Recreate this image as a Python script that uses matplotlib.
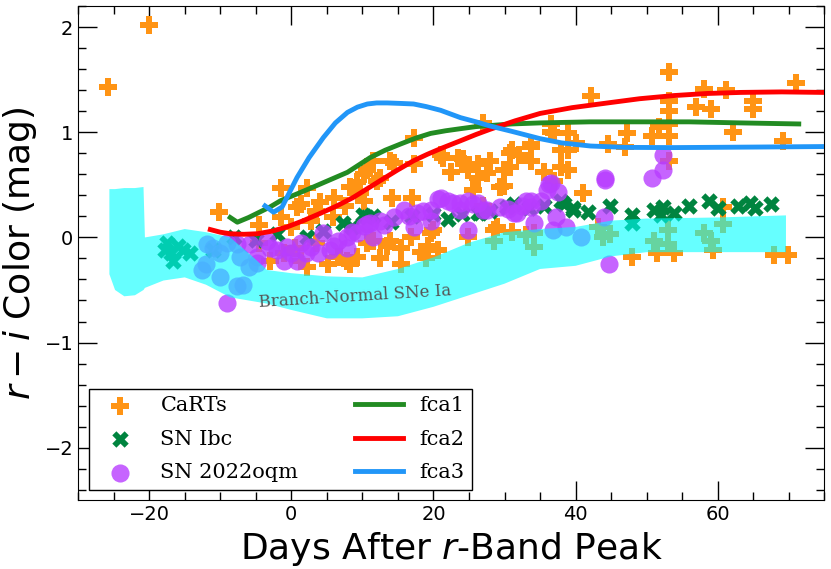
import numpy as np
import matplotlib
matplotlib.use("Agg")
import matplotlib.pyplot as plt
from matplotlib.ticker import MultipleLocator

# CaRTs (orange plus)
carts_x = [-25.8, -20.0, -10.2, -4.5, -1.5, -1.5, -0.1, 0.8, 1.3, 2.2, 2.7, 4.1, 5.9, 8.3, 9.3, 9.7,
           10.2, 10.2, 10.7, 11.5, 12.1, 12.5, 13.9, 14.2, 14.4, 17.0, 17.2, 17.2, 21.0, 21.4, 23.4,
           24.2, 24.8, 26.2, 26.2, 26.9, 27.6, 28.0, 29.4, 29.9, 29.9, 30.8, 30.8, 31.1, 33.7, 33.7,
           33.7, 36.5, 36.5, 36.9, 36.9, 37.9, 37.9, 38.9, 38.9, 38.9, 41.0, 42.1, 44.5, 47.0, 47.3,
           50.8, 51.7, 53.1, 53.1, 53.1, 53.1, 53.1, 53.1, 56.9, 58.0, 59.0, 60.8, 61.1, 62.1, 64.9,
           64.9, 69.2, 71.0,
           -3.0, -1.1, 1.3, 2.2, 5.1, 6.5, 6.9, 7.9, 8.3, 9.3, 10.7, 11.5, 13.5, 13.9, 15.4, 16.8,
           18.2, 19.2, 19.6, 20.0, 20.6, 24.8, 28.5, 28.5, 29.0, 34.1, 34.1, 43.1, 43.9, 44.8, 48.0,
           51.0, 51.5, 53.0, 53.0, 53.8, 58.0, 59.0, 59.4, 60.8, 67.9, 69.9,
           3.5, 6.0, 7.5, 22.5, 25.5, 32.0, 35.5, 40.0, -4.5, 0.5, 3.5, 12.5, 15.5, 19.0, 27.0, 31.0, 33.0]
carts_y = [1.43, 2.02, 0.24, 0.12, 0.47, 0.19, 0.10, 0.29, 0.32, 0.47, 0.16, 0.34, 0.19, 0.48, 0.53, 0.42,
           0.35, 0.60, 0.64, 0.73, 0.54, 0.57, 0.73, 0.38, 0.71, 0.38, 0.70, 0.95, 0.78, 0.76, 0.76,
           0.75, 0.64, 0.70, 0.57, 1.09, 0.61, 0.73, 0.48, 0.64, 0.49, 0.80, 0.67, 0.83, 0.86, 0.73,
           0.89, 1.08, 1.00, 0.99, 0.54, 0.83, 0.67, 0.99, 0.83, 0.64, 0.42, 1.35, 0.89, 0.86, 0.99,
           0.97, 1.05, 1.57, 1.30, 1.20, 1.08, 0.97, 0.73, 1.24, 1.41, 1.22, 0.29, 1.40, 1.00, 1.30,
           1.22, 0.92, 1.47,
           -0.22, -0.15, -0.22, -0.28, -0.25, -0.19, -0.19, -0.22, -0.25, -0.19, -0.05, -0.03, -0.08, -0.03, -0.10, 0.00,
           -0.14, -0.08, 0.04, 0.07, -0.12, 0.00, -0.03, 0.07, 0.10, 0.04, -0.09, 0.10, 0.00, 0.03, -0.19,
           -0.03, -0.15, 0.07, -0.06, -0.15, 0.04, -0.03, -0.12, 0.13, -0.17, -0.17,
           0.25, 0.38, 0.30, 0.62, 0.45, 0.78, 0.62, 0.90, -0.05, -0.10, -0.05, -0.20, -0.25, -0.20, 0.30, 0.05, 0.02]

# SN Ibc (green X)
ibc_x = [-17.5, -17.0, -16.6, -16.0, -15.2, -14.2, -17.8, -11.0,
         -8.0, -5.0, -2.0, 2.2, 4.5, 7.3, 8.5, 10.1, 10.7, 11.5, 14.0, 17.0, 20.0, 22.0, 24.0, 26.2,
         26.6, 28.0, 30.4, 31.3, 33.5, 35.5, 37.9, 38.3, 39.6, 39.7, 41.7, 44.9, 48.0, 48.0, 51.0,
         52.0, 52.3, 53.8, 55.9, 58.7, 60.1, 62.8, 64.6, 65.2, 67.5]
ibc_y = [-0.05, -0.15, -0.22, -0.08, -0.12, -0.15, -0.12, -0.12,
         0.00, -0.02, 0.03, 0.00, 0.06, 0.14, 0.10, 0.21, 0.19, 0.20, 0.15, 0.20, 0.22, 0.18, 0.22, 0.23,
         0.23, 0.25, 0.29, 0.32, 0.28, 0.30, 0.35, 0.32, 0.28, 0.26, 0.24, 0.30, 0.21, 0.14, 0.26,
         0.21, 0.29, 0.23, 0.30, 0.35, 0.28, 0.30, 0.33, 0.28, 0.32]

# SN 2022oqm (purple circles)
oqm_x = [-12.5, -11.8, -12.0, -10.0, -9.0, -7.6, -6.8, -6.0, -4.8, -11.0, -10.0,
         -7.6, -7.2, -5.8, -4.8, -3.4, -2.0, -1.1, -0.6, 0.8, 1.3, 2.7, 3.7, 4.5, 5.5, 6.5, 7.9,
         7.9, 9.3, 10.2, 10.7, 11.1, 11.5, 12.5, 14.4, 15.8, 17.2, 17.7, 19.6, 19.6, 20.7, 21.0,
         22.0, 22.8, 23.8, 23.8, 24.8, 24.8, 25.6, 26.2, 27.0, 27.6, 29.4, 31.3, 31.8, 33.0, 33.7,
         33.7, 34.1, 35.1, 36.0, 36.2, 36.5, 36.8, 37.2, 37.5, 38.6, 40.7, 44.0, 44.2, 44.2, 44.7,
         50.8, 52.3, 52.3,
         -9.0, -3.0, 0.0, 2.0, 6.0, 8.5, 13.0, 16.5, 18.5, 30.5, 32.5]
oqm_y = [-0.31, -0.06, -0.25, -0.38, -0.62, -0.46, -0.45, -0.28, -0.24, -0.10, -0.15,
         -0.06, -0.19, -0.06, -0.19, -0.03, -0.12, -0.22, -0.09, -0.22, -0.05, -0.09, -0.15, 0.04, -0.12, -0.03, 0.00,
         -0.10, 0.04, 0.11, 0.13, 0.14, 0.00, 0.16, 0.19, 0.26, 0.10, 0.23, 0.26, 0.16, 0.37, 0.38,
         0.35, 0.33, 0.26, 0.33, 0.35, 0.07, 0.32, 0.33, 0.26, 0.26, 0.29, 0.23, 0.23, 0.35, 0.29,
         0.35, 0.14, 0.35, 0.45, 0.51, 0.52, 0.07, 0.19, 0.43, 0.10, 0.00, 0.19, 0.57, 0.55, -0.25,
         0.57, 0.64, 0.78,
         -0.05, -0.10, -0.15, -0.15, -0.08, 0.05, 0.12, 0.20, 0.25, 0.27, 0.30]

# Branch-normal SNe Ia region
band_x = [-25.6, -24.8, -23.5, -22.0, -20.8, -20.6, -18.0, -15.0, -12.0, -8.6, -6.0, -3.4, 0.0, 5.0,
          10.0, 15.0, 20.0, 25.0, 30.0, 35.0, 40.0, 45.0, 50.0, 60.0, 69.6]
band_hi = [0.46, 0.46, 0.47, 0.47, 0.48, 0.00, 0.03, 0.08, 0.05, 0.00, -0.15, -0.31, -0.34, -0.37,
           -0.38, -0.30, -0.19, -0.05, 0.05, 0.08, 0.10, 0.16, 0.18, 0.19, 0.21]
band_lo = [-0.35, -0.50, -0.56, -0.55, -0.50, -0.48, -0.41, -0.38, -0.45, -0.57, -0.60, -0.63, -0.69, -0.77,
           -0.77, -0.75, -0.66, -0.55, -0.44, -0.30, -0.27, -0.18, -0.14, -0.14, -0.14]

# model curves
fca1_x = [-8.6, -7.6, -6.0, -4.8, -3.0, -1.5, 1.0, 3.1, 5.5, 7.9, 9.5, 11.1, 13.2, 15.4, 17.5, 19.6,
          21.7, 23.8, 26.0, 28.0, 31.0, 35.0, 42.0, 49.2, 56.0, 63.2, 71.4]
fca1_y = [0.19, 0.145, 0.19, 0.23, 0.29, 0.35, 0.42, 0.48, 0.55, 0.62, 0.69, 0.76, 0.83, 0.89, 0.945, 0.99,
          1.015, 1.035, 1.055, 1.065, 1.08, 1.09, 1.10, 1.10, 1.10, 1.09, 1.08]
fca2_x = [-11.4, -10.0, -8.6, -6.7, -4.8, -2.7, -0.6, 1.7, 4.1, 6.4, 8.7, 10.6, 12.5, 14.9, 17.2, 19.1,
          21.0, 23.8, 26.0, 28.0, 31.5, 35.0, 39.5, 44.5, 49.0, 53.8, 58.5, 63.2, 69.0, 75.0]
fca2_y = [0.075, 0.05, 0.035, 0.03, 0.035, 0.06, 0.10, 0.16, 0.23, 0.30, 0.38, 0.46, 0.54, 0.64, 0.73, 0.79,
          0.845, 0.92, 0.98, 1.03, 1.11, 1.18, 1.235, 1.28, 1.32, 1.35, 1.37, 1.38, 1.385, 1.38]
fca3_x = [-3.7, -2.5, -1.3, 0.8, 2.5, 4.5, 6.2, 7.9, 9.3, 10.7, 12.0, 13.5, 15.5, 17.2, 19.0, 21.0,
          23.8, 26.0, 28.0, 31.0, 35.0, 38.0, 42.1, 47.0, 53.8, 65.0, 75.0]
fca3_y = [0.30, 0.24, 0.29, 0.57, 0.76, 0.95, 1.09, 1.19, 1.24, 1.27, 1.28, 1.28, 1.275, 1.27, 1.245, 1.21,
          1.14, 1.10, 1.06, 1.01, 0.94, 0.90, 0.87, 0.857, 0.855, 0.86, 0.865]

fig = plt.figure(figsize=(8.31, 5.69), dpi=100)
ax = fig.add_axes([0.094, 0.121, 0.898, 0.868])

ax.scatter(carts_x, carts_y, marker="P", s=160, color="#FF9414", linewidths=0, label="CaRTs", zorder=2)
ax.scatter(ibc_x, ibc_y, marker="X", s=140, color="#00843F", linewidths=0, label="SN Ibc", zorder=2)
ax.scatter(oqm_x, oqm_y, marker="o", s=170, color="#B83DFF", alpha=0.8, linewidths=0,
           label="SN 2022oqm", zorder=3)

bx = np.array(band_x)
ax.fill(np.concatenate([bx, bx[::-1]]), np.concatenate([band_hi, band_lo[::-1]]),
        color="#00FFFF", alpha=0.6, lw=0, zorder=4)
ax.text(9, -0.565, "Branch-Normal SNe Ia", family="DejaVu Serif", fontsize=12, color="#555555",
        rotation=3.5, rotation_mode="anchor", ha="center", va="center", zorder=6)

ax.plot(fca1_x, fca1_y, color="#228B22", lw=3.5, label="fca1", zorder=5, solid_joinstyle="round")
ax.plot(fca2_x, fca2_y, color="#FF0000", lw=3.5, label="fca2", zorder=5, solid_joinstyle="round")
ax.plot(fca3_x, fca3_y, color="#2196F8", lw=3.5, label="fca3", zorder=5, solid_joinstyle="round")

ax.set_xlim(-30, 75)
ax.set_ylim(-2.5, 2.2)
ax.xaxis.set_major_locator(MultipleLocator(20))
ax.xaxis.set_minor_locator(MultipleLocator(5))
ax.yaxis.set_major_locator(MultipleLocator(1))
ax.yaxis.set_minor_locator(MultipleLocator(0.2))
ax.tick_params(which="both", direction="in", top=True, right=True, labelsize=14)
ax.tick_params(which="major", length=14, width=1)
ax.tick_params(which="minor", length=6, width=1)

ax.set_xlabel("Days After $r$-Band Peak", fontsize=26)
ax.set_ylabel("$r - i$ Color (mag)", fontsize=26)

leg = ax.legend(loc="lower left", ncol=2, prop={"family": "DejaVu Serif", "size": 15},
                fancybox=False, framealpha=1, edgecolor="black", handlelength=2.3,
                handletextpad=0.8, columnspacing=2.7, borderaxespad=0.5, borderpad=0.35,
                labelspacing=0.7)
leg.get_frame().set_linewidth(1)
leg.set_zorder(10)

fig.savefig("out.png", dpi=100)
